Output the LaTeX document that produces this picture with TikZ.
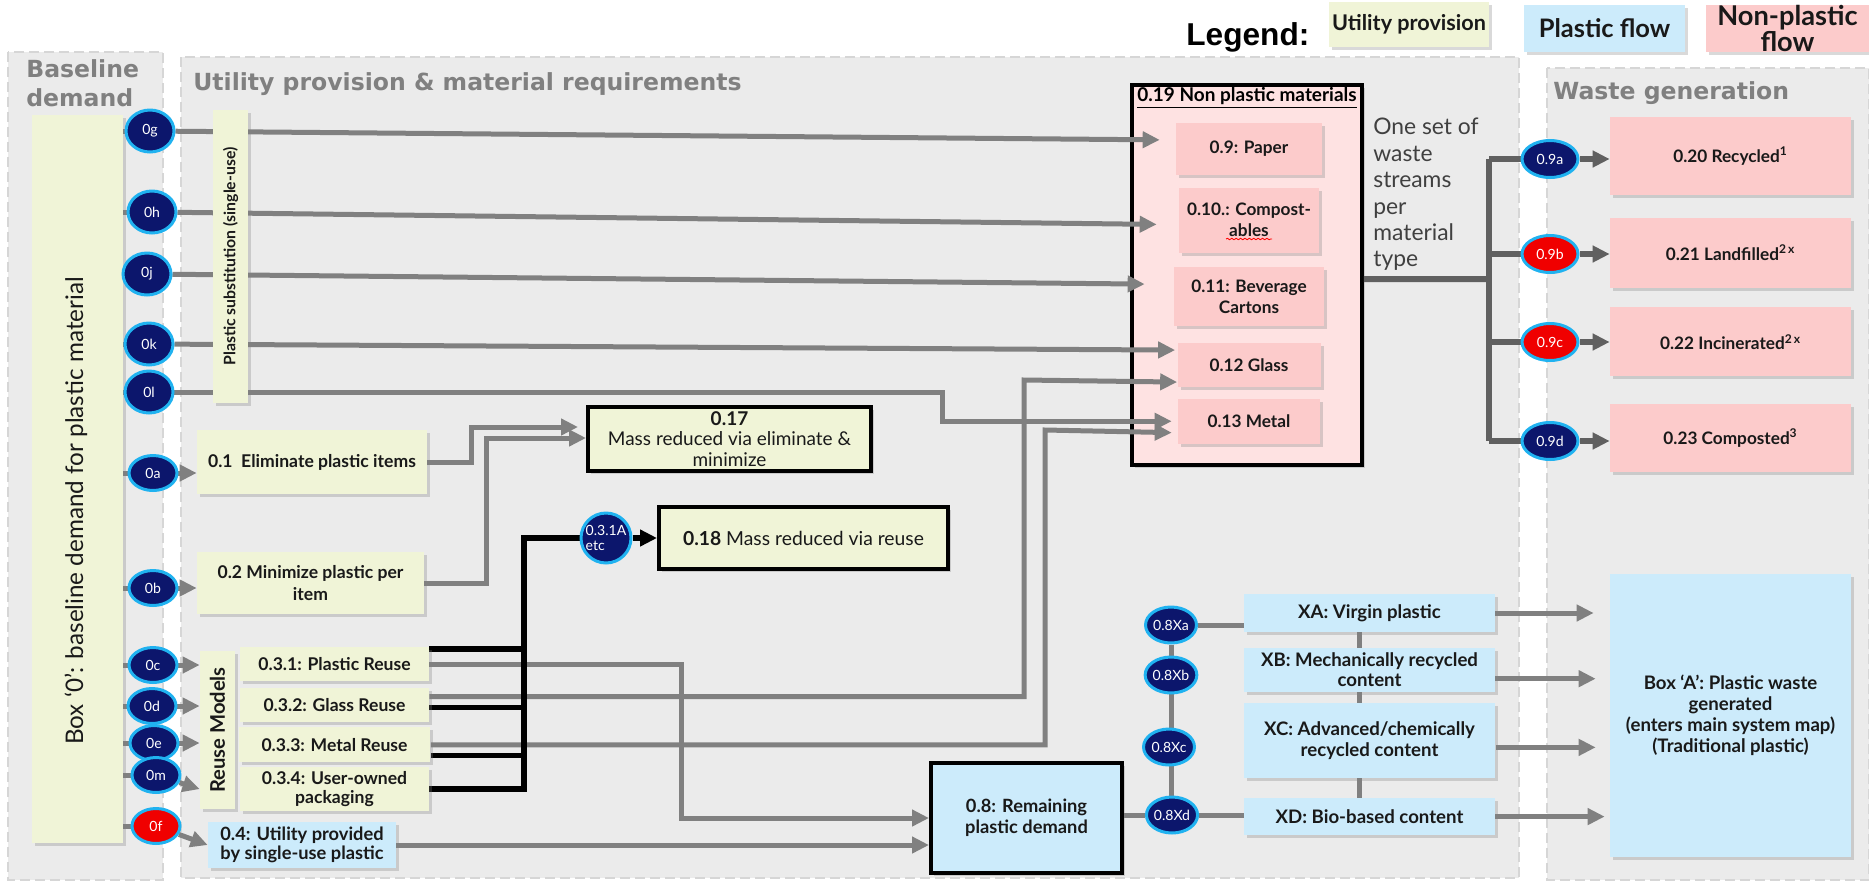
\documentclass[tikz,border=0pt]{standalone}
\usepackage{fontspec}
\setmainfont{Lato}
\newfontfamily\headfont{DejaVu Sans}
\newfontfamily\legfont{Liberation Sans}
\usepackage{tikz}
\usetikzlibrary{arrows.meta,shapes.geometric,positioning,shadows,decorations.pathmorphing}

\definecolor{utilfill}{RGB}{240,244,215}
\definecolor{plasfill}{RGB}{204,235,251}
\definecolor{npfill}{RGB}{252,203,203}
\definecolor{npback}{RGB}{254,226,226}
\definecolor{navy}{RGB}{12,22,108}
\definecolor{ringblue}{RGB}{32,178,240}
\definecolor{hotred}{RGB}{240,0,0}
\definecolor{flowgray}{RGB}{128,128,128}
\definecolor{wastegray}{RGB}{96,96,96}
\definecolor{panelfill}{RGB}{235,235,235}
\definecolor{panelline}{RGB}{214,214,214}
\definecolor{headgray}{RGB}{128,128,128}

\pgfdeclarelayer{panels}
\pgfdeclarelayer{wires}
\pgfsetlayers{panels,wires,main}

\begin{document}
\begin{tikzpicture}[x=0.02cm, y=-0.02cm, >={Triangle[length=0.34cm,width=0.32cm]},
    box/.style={rectangle, inner sep=1pt, align=center, text=black!90,
                drop shadow={shadow xshift=0.06cm, shadow yshift=-0.06cm, opacity=0.3}},
    util/.style={box, fill=utilfill, font=\bfseries\fontsize{10}{12.2}\selectfont},
    plas/.style={box, fill=plasfill, font=\bfseries\fontsize{10.6}{11.8}\selectfont},
    nonp/.style={box, fill=npfill, font=\bfseries\fontsize{9.8}{12}\selectfont},
    heavy/.style={draw=black, line width=0.08cm},
    ring/.style={ellipse, draw=ringblue, line width=0.06cm, fill=navy, text=white, inner sep=0pt,
                 minimum width=0.96cm, minimum height=0.7cm, font=\fontsize{8}{8.5}\selectfont},
    hotring/.style={ring, fill=hotred},
    feed/.style={draw=flowgray, line width=0.1cm},
    flow/.style={feed, ->},
    reuse/.style={draw=black, line width=0.11cm},
    waste/.style={draw=wastegray, line width=0.12cm},
    panel/.style={fill=panelfill, draw=panelline, dash pattern=on 0.2cm off 0.1cm, line width=0.05cm},
    heading/.style={inner sep=0pt, text=headgray, font=\headfont\bfseries\fontsize{13.4}{16.4}\selectfont},
    legbox/.style={box, inner sep=0pt, font=\bfseries\fontsize{14.5}{14.5}\selectfont},
    wastebox/.style={nonp, minimum width=4.82cm, font=\bfseries\fontsize{9.8}{11}\selectfont},
    sidetext/.style={rotate=90, inner sep=0pt, text=black!90},
  ]
  \useasboundingbox (0,0) rectangle (1869,880);

  % panels
  \begin{pgfonlayer}{panels}
    \draw[panel] (8,52) rectangle (163,880);
    \draw[panel] (181,57) rectangle (1519,878);
    \draw[panel] (1547,68) rectangle (1869,880);
    \node[box, heavy, fill=npback, minimum width=4.6cm, minimum height=7.6cm] (np19) at (1247,275) {};
  \end{pgfonlayer}

  \node[heading, align=left, anchor=north west] (hbase)  at (26,59)  {Baseline\\demand};
  \node[heading, anchor=base west]              (hutil)  at (193,90) {Utility provision \& material requirements};
  \node[heading, anchor=base west]              (hwaste) at (1553,99) {Waste generation};

  % legend
  \node[anchor=base west, inner sep=0pt, font=\legfont\bfseries\fontsize{18}{20}\selectfont] (legend) at (1186,45) {Legend:};
  \node[legbox, fill=utilfill, minimum width=3.2cm, minimum height=0.9cm, font=\bfseries\fontsize{12.3}{13}\selectfont] (leg1) at (1409,24.5) {Utility provision};
  \node[legbox, fill=plasfill, minimum width=3.22cm, minimum height=0.94cm] (leg2) at (1604.5,28.5) {Plastic flow};
  \node[legbox, fill=npfill, minimum width=3.26cm, minimum height=0.94cm, font=\bfseries\fontsize{15.5}{14.5}\selectfont] (leg3) at (1787.5,28.5) {Non-plastic\\flow};

  % baseline demand
  \node[util, minimum width=1.82cm, minimum height=14.56cm] (box0) at (77.5,479) {};
  \node[sidetext, font=\fontsize{13.8}{15}\selectfont] (box0lbl) at (76,511) {Box ‘0’: baseline demand for plastic material};

  \foreach \n/\x/\y in {0g/150/131, 0h/152/212, 0j/147/274, 0k/149/344, 0l/149/392}
    \node[ring, minimum height=0.84cm] (c\n) at (\x,\y) {\n};
  \foreach \n/\x/\y in {0a/153/473, 0b/153/588, 0c/153/665, 0d/152/706, 0e/154/743, 0m/156/775}
    \node[ring] (c\n) at (\x,\y) {\n};
  \node[hotring] (c0f) at (156,826) {0f};

  % utility provision
  \node[util, minimum width=0.7cm, minimum height=5.86cm] (subst) at (230.5,256.5) {};
  \node[sidetext, font=\bfseries\fontsize{9}{10}\selectfont] (substlbl) at (subst) {Plastic substitution (single-use)};

  \node[util, minimum width=4.6cm, minimum height=1.28cm]  (elim) at (312,462)   {0.1~~Eliminate plastic items};
  \node[util, minimum width=4.54cm, minimum height=1.24cm] (mini) at (310.5,583) {0.2 Minimize plastic per\\item};

  \node[util, minimum width=0.7cm, minimum height=3.16cm] (rbar) at (217.5,730) {};
  \node[sidetext, font=\bfseries\fontsize{11.5}{12}\selectfont] (rbarlbl) at (rbar) {Reuse Models};

  \node[util, minimum width=3.78cm, minimum height=0.68cm] (r31) at (334.5,664)       {0.3.1: Plastic Reuse};
  \node[util, minimum width=3.78cm, minimum height=0.68cm] (r32) [below=0.12cm of r31] {0.3.2: Glass Reuse};
  \node[util, minimum width=3.84cm, minimum height=0.7cm]  (r33) [below=0.1cm of r32]  {0.3.3: Metal Reuse};
  \node[util, minimum width=3.78cm, minimum height=0.88cm, font=\bfseries\fontsize{10}{11}\selectfont] (r34) [below=0.08cm of r33] {0.3.4: User-owned\\packaging};

  \node[plas, minimum width=3.76cm, minimum height=0.92cm, font=\bfseries\fontsize{10.4}{11}\selectfont] (u04) at (302,845) {0.4: Utility provided\\by single-use plastic};

  \node[util, heavy, minimum width=5.66cm, minimum height=1.28cm, font=\fontsize{10.8}{11.6}\selectfont] (m17) at (729.5,439) {\textbf{0.17}\\Mass reduced via eliminate \&\\minimize};
  \node[util, heavy, minimum width=5.78cm, minimum height=1.24cm, font=\fontsize{11}{12}\selectfont]   (m18) at (803.5,538) {\textbf{0.18} Mass reduced via reuse};
  \node[ring, circle, minimum size=1cm, align=left, font=\fontsize{8}{9}\selectfont] (c031) at (606,538) {0.3.1A\\etc};

  % non plastic materials
  \node[inner sep=1pt, font=\bfseries\fontsize{10.8}{11}\selectfont] (np19lbl) [below=0.04cm of np19.north] {\underline{0.19 Non plastic materials}};

  \node[nonp, minimum width=2.92cm, minimum height=1.04cm] (paper)   at (1249,149)             {0.9: Paper};
  \node[nonp, minimum width=2.8cm, minimum height=1.3cm]   (compost) [below=0.24cm of paper]   {0.10.: Compost-\\ables};
  \node[nonp, minimum width=3cm, minimum height=1.18cm]    (bev)     [below=0.28cm of compost] {0.11: Beverage\\Cartons};
  \node[nonp, minimum width=2.86cm, minimum height=0.88cm] (glass)   [below=0.32cm of bev]     {0.12 Glass};
  \node[nonp, minimum width=2.84cm, minimum height=0.9cm]  (metal)   [below=0.22cm of glass]   {0.13 Metal};
  \draw[red, line width=0.5pt, decorate, decoration={snake, amplitude=0.4pt, segment length=2.5pt}] (1226,239) -- (1272,239);

  \node[anchor=north west, align=left, inner sep=0pt, text=black!75, font=\fontsize{13}{15}\selectfont] (streams) at (1373,118)
    {One set of\\waste\\streams\\per\\material\\type};

  % waste generation
  \coordinate (wbus) at (1489,279);
  \node[ring, minimum width=1.12cm, minimum height=0.74cm]    (c9a) at (1550,159) {0.9a};
  \node[hotring, minimum width=1.12cm, minimum height=0.74cm] (c9b) at (1550,254) {0.9b};
  \node[hotring, minimum width=1.12cm, minimum height=0.74cm] (c9c) at (1550,342) {0.9c};
  \node[ring, minimum width=1.12cm, minimum height=0.74cm]    (c9d) at (1550,441) {0.9d};

  \node[wastebox, minimum height=1.56cm] (w20) at (1730.5,156)       {0.20 Recycled\textsuperscript{1}};
  \node[wastebox, minimum height=1.4cm]  (w21) [below=0.44cm of w20] {0.21 Landfilled\textsuperscript{2\,x}};
  \node[wastebox, minimum height=1.38cm] (w22) [below=0.38cm of w21] {0.22 Incinerated\textsuperscript{2\,x}};
  \node[wastebox, minimum height=1.36cm] (w23) [below=0.54cm of w22] {0.23 Composted\textsuperscript{3}};

  % plastic
  \node[plas, heavy, minimum width=3.82cm, minimum height=2.2cm, font=\bfseries\fontsize{10.4}{12}\selectfont] (p08) at (1026.5,818) {0.8: Remaining\\plastic demand};
  \node[ring, minimum width=1.02cm, minimum height=0.72cm] (cXa) at (1171,625) {0.8Xa};
  \node[ring, minimum width=1.02cm, minimum height=0.72cm] (cXb) at (1171,675) {0.8Xb};
  \node[ring, minimum width=1.02cm, minimum height=0.72cm] (cXc) at (1169,747) {0.8Xc};
  \node[ring, minimum width=1.02cm, minimum height=0.72cm] (cXd) at (1172,815) {0.8Xd};

  \node[plas, minimum width=5.02cm, minimum height=0.76cm] (xa) at (1369.5,613)       {XA: Virgin plastic};
  \node[plas, minimum width=5.02cm, minimum height=0.88cm] (xb) [below=0.3cm of xa]  {XB: Mechanically recycled\\content};
  \node[plas, minimum width=5.04cm, minimum height=1.5cm]  (xc) [below=0.22cm of xb] {XC: Advanced/chemically\\recycled content};
  \node[plas, minimum width=5.02cm, minimum height=0.74cm] (xd) [below=0.38cm of xc] {XD: Bio-based content};

  \node[plas, minimum width=4.82cm, minimum height=5.66cm, font=\bfseries\fontsize{10.6}{12}\selectfont] (boxA) at (1730.5,715.5)
    {Box ‘A’: Plastic waste\\generated\\(enters main system map)\\(Traditional plastic)};

  % connectors
  \begin{pgfonlayer}{wires}
    \foreach \n in {0g,0h,0j,0k,0l,0a,0b,0c,0d,0e,0m,0f}
      \draw[feed] (box0.east |- c\n) -- (c\n);

    \draw[flow, shorten >=0.32cm] (c0g) -- ([yshift=0.18cm]paper.west);
    \draw[flow, shorten >=0.44cm] (c0h) -- ([yshift=-0.09cm]compost.west);
    \draw[flow, shorten >=0.58cm] (c0j) -- ([yshift=0.25cm]bev.west);
    \draw[flow, shorten >=0.04cm] (c0k) -- ([yshift=0.3cm]glass.west);
    \draw[flow, shorten >=0.12cm] (c0l) -- (942,392) |- (metal.west);

    \draw[flow] (c0a) -- (c0a -| elim.west);
    \draw[flow] (c0b) -- (c0b -| mini.west);
    \draw[flow] (c0c) -- (c0c -| rbar.west);
    \draw[flow] (c0d) -- (c0d -| rbar.west);
    \draw[flow] (c0e) -- (c0e -| rbar.west);
    \draw[flow] (c0m) -- (rbar.west |- r34);
    \draw[flow] (c0f) -- (u04.west);

    \draw[flow, shorten >=0.16cm] (elim.east) -- ++(44,0) |- ([yshift=0.24cm]m17.west);
    \draw[flow] (mini.east) -- ++(62,0) |- ([yshift=0.02cm]m17.west);

    \draw[flow] (r31.east) -- (681,664) |- (p08.west);
    \draw[flow] ([yshift=0.16cm]r32.east) -| (1024,380) -- ([yshift=-0.34cm]glass.west);
    \draw[flow, shorten >=0.12cm] (r33.east) -| (1045,430) -- ([yshift=-0.23cm]metal.west);
    \draw[flow] (u04.east) -- (u04.east -| p08.west);

    \draw[reuse] ([yshift=0.3cm]r31.east) -- ++(95,0);
    \draw[reuse] ([yshift=-0.06cm]r32.east) -- ++(95,0);
    \draw[reuse] ([yshift=-0.21cm]r33.east) -- ++(92,0);
    \draw[reuse] (r34.east) -| (524,538) -- (c031);
    \draw[reuse, ->] (c031) -- (c031 -| m18.west);

    \draw[waste] ([yshift=-0.08cm]np19.east) -- (wbus);
    \draw[waste] (wbus |- c9a) -- (wbus |- c9d);
    \foreach \c/\w in {c9a/w20, c9b/w21, c9c/w22, c9d/w23} {
      \draw[waste] (wbus |- \c) -- (\c);
      \draw[waste, ->] (\c) -- (\c -| \w.west);
    }

    \draw[feed] (p08.east |- cXd) -- (cXd);
    \draw[feed] (cXa) -- (cXa |- cXd);
    \draw[feed] (cXa) -- (cXa -| xa.west);
    \draw[feed] (cXd) -- (cXd -| xd.west);
    \draw[feed] ([xshift=-0.21cm]xa.south) -- ([xshift=-0.21cm]xd.north);
    \draw[flow, shorten >=0.32cm] (xa.east) -- (xa.east -| boxA.west);
    \draw[flow, shorten >=0.28cm] ([yshift=-0.18cm]xb.east) -- ([yshift=-0.18cm]xb.east -| boxA.west);
    \draw[flow, shorten >=0.28cm] ([yshift=-0.13cm]xc.east) -- ([yshift=-0.13cm]xc.east -| boxA.west);
    \draw[flow, shorten >=0.1cm] (xd.east) -- (xd.east -| boxA.west);
  \end{pgfonlayer}
\end{tikzpicture}
\end{document}
